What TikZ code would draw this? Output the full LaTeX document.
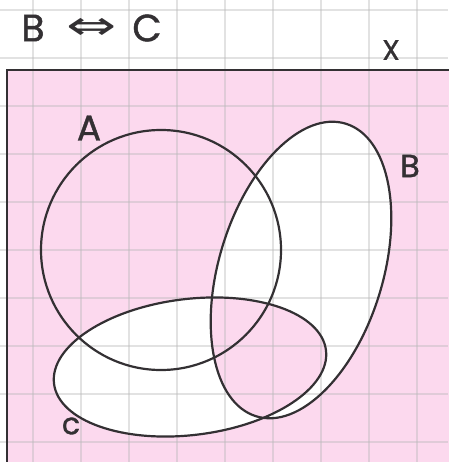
\documentclass[tikz,border=0pt]{standalone}
\usepackage{fontspec}
\setmainfont{Poppins}
\newfontfamily\hand{Poppins}[FakeBold=1.2]
\newfontfamily\symfont{DejaVu Sans}
\definecolor{pinkfill}{HTML}{FCD9EE}
\definecolor{ink}{HTML}{333033}
\definecolor{gridc}{HTML}{B8B8B8}
\begin{document}
\begin{tikzpicture}[x=1pt,y=-1pt,
  setline/.style={draw=ink,line width=2.2pt},
  lbl/.style={text=ink,inner sep=0pt,anchor=center}]
\useasboundingbox (0,0) rectangle (448,462);
\fill[white] (0,0) rectangle (448,462);
% universe
\fill[pinkfill] (7,70) rectangle (452,466);
% B xor C white
\fill[white,even odd rule]
  (301,270) ellipse[x radius=153,y radius=82,rotate=73]
  (190,367) ellipse[x radius=137,y radius=68,rotate=7];
% grid
\foreach \gx in {33,81,...,417} \draw[gridc,opacity=0.4,line width=1.5pt] (\gx,0) -- (\gx,462);
\foreach \gy in {10,58,...,442} \draw[gridc,opacity=0.4,line width=1.5pt] (0,\gy) -- (448,\gy);
% universe border
\draw[draw=ink,line width=2.6pt] (7,470) -- (7,70) -- (455,70);
% sets
\node[setline,circle,minimum size=240pt,inner sep=0pt] (A) at (161,250) {};
\draw[setline] (301,270) ellipse[x radius=153,y radius=82,rotate=73];
\draw[setline] (190,367) ellipse[x radius=137,y radius=68,rotate=7];
% labels
\node[lbl,font=\hand\fontsize{38}{38}\selectfont] (lB) at (33,28) {B};
\node[lbl,font=\symfont\fontsize{40}{40}\selectfont,xscale=1.5] (arr) at (92,29) {⇔};
\node[lbl,font=\hand\fontsize{38}{38}\selectfont] (lC) at (147,28) {C};
\node[lbl,font=\hand\fontsize{28}{28}\selectfont] (X) at (391,50) {X};
\node[lbl,font=\hand\fontsize{36}{36}\selectfont] (la) at (89,128) {A};
\node[lbl,font=\hand\fontsize{32}{32}\selectfont] (lb) at (410,166) {B};
\node[lbl,font=\hand\fontsize{30}{30}\selectfont] (lc) at (71,426) {c};
\end{tikzpicture}
\end{document}
